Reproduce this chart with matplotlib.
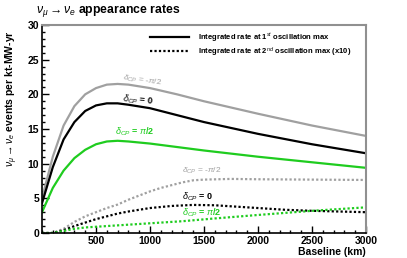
import numpy as np
import matplotlib
matplotlib.use("Agg")
import matplotlib.pyplot as plt
from matplotlib.ticker import MultipleLocator

plt.rcParams['font.family'] = ['Liberation Sans', 'DejaVu Sans']
plt.rcParams['mathtext.fontset'] = 'custom'
plt.rcParams['mathtext.rm'] = 'Liberation Sans'
plt.rcParams['mathtext.it'] = 'Liberation Sans:italic'
plt.rcParams['mathtext.bf'] = 'Liberation Sans:bold'

# --- data ---
# 1st oscillation max (solid)
km_1st = [0, 100, 200, 300, 400, 500, 600, 700, 800, 1000, 1250, 1500, 2000, 2500, 3000]
rate_1st_neg = [5.0, 11.0, 15.5, 18.3, 20.0, 20.9, 21.4, 21.5, 21.4, 20.9, 20.0, 19.0, 17.2, 15.5, 14.0]
rate_1st_zero = [4.3, 9.5, 13.5, 16.0, 17.6, 18.4, 18.7, 18.7, 18.5, 18.0, 17.0, 16.0, 14.3, 12.8, 11.5]
rate_1st_pos = [3.0, 6.5, 9.0, 10.8, 12.0, 12.8, 13.2, 13.3, 13.2, 12.9, 12.4, 11.9, 11.0, 10.2, 9.4]

# 2nd oscillation max (dotted, x10)
km_2nd_neg = [0, 100, 200, 300, 400, 500, 600, 700, 800, 900, 1000, 1100, 1200, 1300, 1400,
              1500, 1750, 2000, 2500, 3000]
rate_2nd_neg = [0, 0, 0.6, 1.6, 2.4, 3.0, 3.6, 4.1, 4.8, 5.4, 6.0, 6.5, 6.9, 7.3, 7.6,
                7.7, 7.8, 7.75, 7.7, 7.65]
km_2nd_zero = [0, 100, 200, 300, 400, 500, 600, 700, 800, 1000, 1200, 1400, 1600, 1800,
               2000, 2250, 2500, 2750, 3000]
rate_2nd_zero = [0, 0, 0.4, 1.0, 1.5, 2.0, 2.4, 2.8, 3.1, 3.6, 3.9, 4.05, 4.0, 3.8,
                 3.6, 3.35, 3.2, 3.1, 3.0]
km_2nd_pos = [0, 100, 200, 300, 400, 500, 700, 1000, 1300, 1600, 2000, 2500, 3000]
rate_2nd_pos = [0, 0, 0.3, 0.6, 0.8, 0.9, 1.1, 1.4, 1.7, 2.1, 2.6, 3.2, 3.7]

x_ticks = [500, 1000, 1500, 2000, 2500, 3000]
y_ticks = [0, 5, 10, 15, 20, 25, 30]

GRAY = '#a0a0a0'
GREEN = '#1fcc1f'

fig = plt.figure(figsize=(4.07, 2.58), dpi=100)
ax = fig.add_axes([0.1032, 0.0969, 0.7961, 0.8062])

lw = 1.6
dots = (0, (1, 1))
ax.plot(km_1st, rate_1st_neg, color=GRAY, lw=lw)
ax.plot(km_1st, rate_1st_zero, color='black', lw=lw, label='Integrated rate at 1$^{st}$ oscillation max')
ax.plot(km_1st, rate_1st_pos, color=GREEN, lw=lw)
ax.plot(km_2nd_neg, rate_2nd_neg, color=GRAY, lw=lw, ls=dots)
ax.plot(km_2nd_zero, rate_2nd_zero, color='black', lw=lw, ls=dots,
        label='Integrated rate at 2$^{nd}$ oscillation max (x10)')
ax.plot(km_2nd_pos, rate_2nd_pos, color=GREEN, lw=lw, ls=dots)

# curve labels
ax.text(740, 22.0, r'$\delta_{CP}$ = -$\pi$/2', color=GRAY, fontsize=6, rotation=-8, va='center')
ax.text(740, 19.2, r'$\delta_{CP}$ = 0', color='black', fontsize=6.5, fontweight='bold',
        rotation=-5, va='center')
ax.text(680, 14.6, r'$\delta_{CP}$ = $\pi$/2', color=GREEN, fontsize=6.5, fontweight='bold',
        va='center')
ax.text(1300, 8.9, r'$\delta_{CP}$ = -$\pi$/2', color=GRAY, fontsize=6, va='center')
ax.text(1300, 5.3, r'$\delta_{CP}$ = 0', color='black', fontsize=6.5, fontweight='bold', va='center')
ax.text(1300, 2.9, r'$\delta_{CP}$ = $\pi$/2', color=GREEN, fontsize=6.5, fontweight='bold', va='center')

ax.set_xlim(0, 3000)
ax.set_ylim(0, 30)
ax.xaxis.set_minor_locator(MultipleLocator(100))
ax.yaxis.set_minor_locator(MultipleLocator(1))
ax.set_xticks(x_ticks)
ax.set_yticks(y_ticks)
ax.tick_params(which='both', direction='in', top=False, right=False, labelsize=7.5, width=1)
ax.tick_params(which='major', length=5, pad=2)
ax.tick_params(which='minor', length=2.5)
for lab in ax.get_xticklabels() + ax.get_yticklabels():
    lab.set_fontweight('bold')

for side in ['left', 'bottom']:
    ax.spines[side].set_linewidth(1.2)
for side in ['top', 'right']:
    ax.spines[side].set_color('#909090')
    ax.spines[side].set_linewidth(1.5)

ax.set_xlabel('Baseline (km)', loc='right', fontsize=7.5, fontweight='bold', labelpad=1)
ax.set_ylabel(r'$\nu_{\mu} \rightarrow \nu_{e}$ events per kt-MW-yr', loc='top', fontsize=7.5,
              fontweight='bold')
ax.yaxis.set_label_coords(-0.068, 0.976)
fig.text(0.088, 0.96, r'$\nu_{\mu} \rightarrow \nu_{e}$ appearance rates', fontsize=8.8,
         fontweight='bold', va='center')

leg = ax.legend(loc='upper left', bbox_to_anchor=(0.325, 0.985), frameon=False, fontsize=5.5,
                handlelength=5.0, handletextpad=1.2, labelspacing=0.2, borderaxespad=0)
for t in leg.get_texts():
    t.set_fontweight('bold')

fig.savefig('out.png', dpi=100)
